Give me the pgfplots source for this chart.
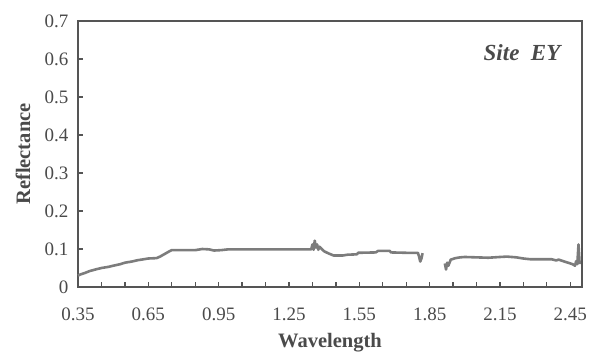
\documentclass[border=0pt]{standalone}
\usepackage{pgfplots}
\pgfplotsset{compat=1.18}
\usepackage{fontspec}
\setmainfont{Liberation Serif}
\definecolor{curve}{HTML}{7C7C7C}
\definecolor{frame}{HTML}{555555}
\definecolor{txt}{HTML}{4A4A4A}
\begin{document}
\begin{tikzpicture}
\begin{axis}[
  at={(0,0)}, anchor=south west,
  width=504pt, height=266pt, scale only axis,
  xmin=0.35, xmax=2.5, ymin=0, ymax=0.7,
  xtick={0.35,0.65,0.95,1.25,1.55,1.85,2.15,2.45},
  xticklabels={0.35,0.65,0.95,1.25,1.55,1.85,2.15,2.45},
  minor xtick={0.45,0.55,0.75,0.85,1.05,1.15,1.35,1.45,1.65,1.75,1.95,2.05,2.25,2.35},
  ytick={0,0.1,0.2,0.3,0.4,0.5,0.6,0.7},
  yticklabels={0,0.1,0.2,0.3,0.4,0.5,0.6,0.7},
  xtick pos=bottom, ytick pos=left,
  tick align=inside,
  major tick length=5pt, minor tick length=5pt,
  tick style={frame, line width=1.3pt},
  axis line style={frame, line width=1.5pt},
  tick label style={font=\fontsize{19}{22}\selectfont, text=txt},
  xticklabel style={yshift=-17pt},
  yticklabel style={xshift=-6pt},
  /pgf/number format/assume math mode=true,
  xlabel={Wavelength}, ylabel={Reflectance},
  label style={font=\fontsize{20.5}{24}\selectfont\bfseries, text=txt},
  xlabel style={at={(axis description cs:0.5,0)}, anchor=base, yshift=-60pt},
  ylabel style={at={([xshift=-55pt]axis description cs:0,0.5)}, anchor=center},
  clip=false,
]
\addplot[curve, line width=2.6pt, line join=round] coordinates {
(0.35,0.030) (0.36,0.033) (0.38,0.037) (0.40,0.042) (0.43,0.047) (0.45,0.050)
(0.48,0.053) (0.50,0.056) (0.53,0.060) (0.55,0.064) (0.58,0.067) (0.60,0.070)
(0.63,0.073) (0.65,0.075) (0.685,0.076) (0.70,0.080) (0.72,0.087) (0.74,0.094)
(0.75,0.097) (0.80,0.097) (0.85,0.097) (0.88,0.100) (0.91,0.099) (0.93,0.096)
(0.96,0.097) (0.99,0.099) (1.05,0.099) (1.15,0.099) (1.25,0.099) (1.345,0.099)
(1.35,0.112) (1.355,0.098) (1.36,0.122) (1.365,0.104) (1.37,0.112) (1.375,0.098)
(1.38,0.106) (1.39,0.100) (1.40,0.094) (1.42,0.088) (1.44,0.083) (1.48,0.083)
(1.50,0.085) (1.54,0.086) (1.545,0.090) (1.62,0.091) (1.63,0.095) (1.68,0.095)
(1.685,0.091) (1.75,0.090) (1.80,0.090) (1.805,0.080) (1.81,0.067) (1.815,0.075)
(1.82,0.089)
};
\addplot[curve, line width=2.6pt, line join=round] coordinates {
(1.915,0.062) (1.92,0.046) (1.925,0.064) (1.93,0.056) (1.94,0.072) (1.96,0.076)
(1.98,0.078) (2.00,0.079) (2.05,0.078) (2.10,0.077) (2.15,0.079) (2.18,0.080)
(2.22,0.078) (2.25,0.075) (2.28,0.073) (2.33,0.073) (2.37,0.073) (2.39,0.070)
(2.40,0.072) (2.42,0.068) (2.44,0.064) (2.46,0.060) (2.47,0.056) (2.475,0.068)
(2.48,0.060) (2.485,0.112) (2.49,0.060)
};
\node[font=\fontsize{23}{26}\selectfont\bfseries\itshape, text=txt, anchor=base]
  at (rel axis cs:0.881,0.85) {Site\ \ EY};
\end{axis}
\pgfresetboundingbox
\path (-78pt,-64pt) rectangle (511pt,287pt);
\end{tikzpicture}
\end{document}
